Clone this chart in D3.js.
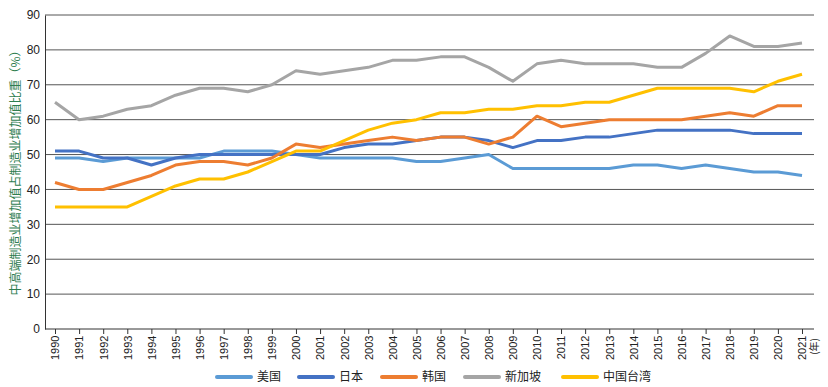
<!DOCTYPE html>
<html>
<head>
<meta charset="utf-8">
<script src="https://cdn.jsdelivr.net/npm/d3@7"></script>
<style>
  body { margin: 0; background: #fff; }
  svg { display: block; font-family: "Liberation Sans", Arial, sans-serif; }
  .cjk { font-family: "Noto Sans CJK SC", sans-serif; }
</style>
</head>
<body>
<svg id="chart" width="828" height="387"></svg>
<script>
  const years = d3.range(1990, 2022).map(String);
  const yTicks = [0, 10, 20, 30, 40, 50, 60, 70, 80, 90];

  const usa = [49, 49, 48, 49, 49, 49, 49, 51, 51, 51, 50, 49, 49, 49, 49, 48, 48, 49, 50, 46, 46, 46, 46, 46, 47, 47, 46, 47, 46, 45, 45, 44];
  const japan = [51, 51, 49, 49, 47, 49, 50, 50, 50, 50, 50, 50, 52, 53, 53, 54, 55, 55, 54, 52, 54, 54, 55, 55, 56, 57, 57, 57, 57, 56, 56, 56];
  const korea = [42, 40, 40, 42, 44, 47, 48, 48, 47, 49, 53, 52, 53, 54, 55, 54, 55, 55, 53, 55, 61, 58, 59, 60, 60, 60, 60, 61, 62, 61, 64, 64];
  const singapore = [65, 60, 61, 63, 64, 67, 69, 69, 68, 70, 74, 73, 74, 75, 77, 77, 78, 78, 75, 71, 76, 77, 76, 76, 76, 75, 75, 79, 84, 81, 81, 82];
  const taiwan = [35, 35, 35, 35, 38, 41, 43, 43, 45, 48, 51, 51, 54, 57, 59, 60, 62, 62, 63, 63, 64, 64, 65, 65, 67, 69, 69, 69, 69, 68, 71, 73];

  const seriesNames = ['美国', '日本', '韩国', '新加坡', '中国台湾'];
  const seriesColors = ['#5b9bd5', '#4472c4', '#ed7d31', '#a5a5a5', '#ffc000'];
  const seriesValues = [usa, japan, korea, singapore, taiwan];

  const series = seriesNames.map((name, i) => ({
    name,
    color: seriesColors[i],
    values: seriesValues[i]
  }));

  const svg = d3.select('#chart');
  const margin = { left: 43, right: 14, top: 15, bottom: 58 };
  const width = +svg.attr('width');
  const height = +svg.attr('height');

  const x = d3.scalePoint()
    .domain(years)
    .range([margin.left + 12, width - margin.right - 12]);

  const y = d3.scaleLinear()
    .domain([0, 90])
    .range([height - margin.bottom, margin.top]);

  // gridlines
  svg.append('g')
    .selectAll('line')
    .data(yTicks.filter(d => d > 0))
    .enter()
    .append('line')
    .attr('x1', margin.left + 2)
    .attr('x2', width - margin.right)
    .attr('y1', d => y(d))
    .attr('y2', d => y(d))
    .attr('stroke', '#555')
    .attr('stroke-width', 1);

  // y axis
  const yAxis = svg.append('g')
    .attr('transform', `translate(${margin.left + 2},0)`)
    .call(d3.axisLeft(y).tickValues(yTicks).tickSize(0).tickPadding(5));
  yAxis.select('.domain').attr('stroke', '#333');
  yAxis.selectAll('text').attr('font-size', 12).attr('fill', '#222')
    .attr('font-family', '"Liberation Sans", Arial, sans-serif');

  // x axis
  const xAxis = svg.append('g')
    .attr('transform', `translate(0,${y(0)})`)
    .call(d3.axisBottom(x).tickSize(5).tickSizeOuter(0));
  xAxis.select('.domain').attr('stroke', '#333')
    .attr('d', `M${margin.left + 2},0H${width - margin.right}`);
  xAxis.selectAll('.tick line').attr('stroke', '#333');
  xAxis.selectAll('text')
    .attr('font-size', 11)
    .attr('fill', '#222')
    .attr('font-family', '"Liberation Sans", Arial, sans-serif')
    .attr('transform', 'rotate(-90)')
    .attr('text-anchor', 'end')
    .attr('dx', '-0.6em')
    .attr('dy', '0.35em')
    .attr('y', 0);

  // unit label for x
  svg.append('text')
    .attr('class', 'cjk')
    .attr('transform', `translate(${x('2021') + 12},${y(0) + 9}) rotate(-90)`)
    .attr('text-anchor', 'end')
    .attr('dy', '0.35em')
    .attr('font-size', 10)
    .attr('fill', '#222')
    .text('(年)');

  // y label
  svg.append('text')
    .attr('class', 'cjk')
    .attr('transform', `translate(16,170) rotate(-90)`)
    .attr('text-anchor', 'middle')
    .attr('dy', '0.35em')
    .attr('font-size', 12)
    .attr('fill', '#2e7d4f')
    .text('中高端制造业增加值占制造业增加值比重（%）');

  // lines
  const line = d3.line()
    .x((d, i) => x(years[i]))
    .y(d => y(d));

  svg.append('g')
    .selectAll('path')
    .data(series)
    .enter()
    .append('path')
    .attr('fill', 'none')
    .attr('stroke', s => s.color)
    .attr('stroke-width', 3)
    .attr('stroke-linejoin', 'round')
    .attr('d', s => line(s.values));

  // legend
  const legendX = [217, 299, 382, 465, 563];
  const legend = svg.append('g')
    .selectAll('g')
    .data(series)
    .enter()
    .append('g')
    .attr('transform', (s, i) => `translate(${legendX[i]},377)`);
  legend.append('line')
    .attr('x1', 0).attr('x2', 34)
    .attr('stroke', s => s.color)
    .attr('stroke-width', 4)
    .attr('stroke-linecap', 'round');
  legend.append('text')
    .attr('class', 'cjk')
    .attr('x', 40)
    .attr('dy', '0.35em')
    .attr('font-size', 12)
    .attr('fill', '#222')
    .text(s => s.name);
</script>
</body>
</html>
